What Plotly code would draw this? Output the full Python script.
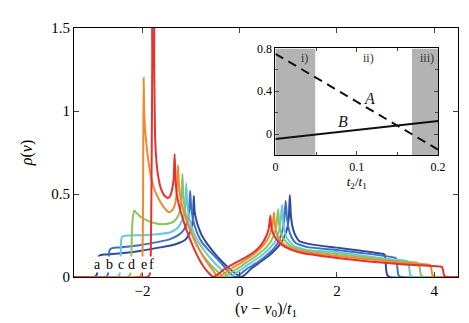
import plotly.graph_objects as go

# main panel: density of states, curves a..f
x_a = [-3.45, -3.0, -2.95, -2.93, -2.92, -2.91, -2.88, -2.8, -2.44, -2.0, -1.6, -1.42, -1.25, -1.12,
       -1.04, -0.99, -0.965, -0.945, -0.93, -0.9, -0.85, -0.78, -0.67, -0.55, -0.43, -0.25, -0.1, 0.03, 0.1,
       0.25, 0.42, 0.58, 0.75, 0.86, 0.93, 0.98, 1.01, 1.03, 1.05, 1.08, 1.13, 1.23, 1.5, 2.0, 2.5, 2.93,
       2.98, 3.0, 3.01, 3.03, 3.08, 4.6]
y_a = [0, 0, 0.01, 0.03, 0.08, 0.12, 0.13, 0.135, 0.143, 0.16, 0.18, 0.19, 0.205, 0.225,
       0.26, 0.3, 0.35, 0.49, 0.40, 0.35, 0.30, 0.25, 0.20, 0.155, 0.113, 0.06, 0.024, 0.0, 0.012,
       0.054, 0.09, 0.123, 0.17, 0.21, 0.25, 0.3, 0.36, 0.494, 0.38, 0.31, 0.26, 0.215, 0.195, 0.177,
       0.158, 0.14, 0.135, 0.1, 0.05, 0.015, 0, 0]

x_b = [-3.45, -2.76, -2.72, -2.7, -2.69, -2.68, -2.64, -2.5, -2.1, -1.7, -1.42, -1.25, -1.15, -1.09,
       -1.05, -1.02, -1.0, -0.97, -0.93, -0.87, -0.78, -0.65, -0.45, -0.3, -0.2, -0.1, -0.02, 0.15, 0.35,
       0.5, 0.68, 0.79, 0.86, 0.905, 0.945, 0.97, 1.0, 1.05, 1.15, 1.4, 2.0, 2.5, 3.17, 3.21,
       3.23, 3.245, 3.26, 3.31, 4.6]
y_b = [0, 0, 0.01, 0.04, 0.12, 0.16, 0.173, 0.178, 0.19, 0.21, 0.23, 0.255, 0.285, 0.325,
       0.37, 0.52, 0.42, 0.36, 0.31, 0.26, 0.21, 0.165, 0.105, 0.055, 0.022, 0.0, 0.01, 0.05, 0.085,
       0.118, 0.165, 0.21, 0.26, 0.32, 0.46, 0.36, 0.3, 0.25, 0.205, 0.18, 0.163, 0.145, 0.118, 0.113,
       0.09, 0.05, 0.015, 0, 0]

x_c = [-3.45, -2.52, -2.48, -2.46, -2.45, -2.44, -2.41, -2.3, -2.0, -1.7, -1.42, -1.3, -1.22, -1.16,
       -1.125, -1.1, -1.08, -1.05, -1.0, -0.94, -0.85, -0.72, -0.55, -0.4, -0.3, -0.23, -0.15, 0.05, 0.25,
       0.45, 0.62, 0.73, 0.79, 0.835, 0.87, 0.89, 0.92, 0.97, 1.1, 1.35, 2.0, 2.5, 3.0, 3.42, 3.46,
       3.48, 3.495, 3.51, 3.56, 4.6]
y_c = [0, 0, 0.01, 0.04, 0.12, 0.22, 0.245, 0.25, 0.252, 0.258, 0.27, 0.29, 0.32, 0.36,
       0.41, 0.565, 0.44, 0.37, 0.31, 0.26, 0.21, 0.155, 0.095, 0.05, 0.02, 0.0, 0.01, 0.05, 0.09,
       0.13, 0.175, 0.215, 0.26, 0.32, 0.435, 0.34, 0.28, 0.235, 0.19, 0.165, 0.15, 0.13, 0.11, 0.098, 0.094,
       0.07, 0.035, 0.01, 0, 0]

x_d = [-3.45, -2.3, -2.26, -2.24, -2.23, -2.22, -2.2, -2.17, -2.12, -2.03, -1.9, -1.76, -1.6, -1.42,
       -1.32, -1.25, -1.21, -1.18, -1.16, -1.13, -1.08, -1.0, -0.9, -0.78, -0.62, -0.5, -0.4, -0.34, -0.27,
       -0.05, 0.15, 0.35, 0.55, 0.65, 0.71, 0.755, 0.79, 0.81, 0.84, 0.9, 1.05, 1.3, 2.0, 2.6, 3.2,
       3.64, 3.68, 3.7, 3.715, 3.73, 3.79, 4.6]
y_d = [0, 0, 0.01, 0.04, 0.12, 0.25, 0.36, 0.40, 0.385, 0.36, 0.34, 0.325, 0.318, 0.325,
       0.345, 0.38, 0.43, 0.62, 0.49, 0.41, 0.34, 0.27, 0.2, 0.14, 0.08, 0.045, 0.018, 0.0, 0.01,
       0.05, 0.09, 0.13, 0.18, 0.22, 0.26, 0.31, 0.41, 0.32, 0.27, 0.23, 0.185, 0.16, 0.138, 0.118, 0.097,
       0.086, 0.082, 0.06, 0.03, 0.01, 0, 0]

x_e = [-3.45, -2.07, -2.03, -2.01, -2.0, -1.99, -1.985, -1.978, -1.965, -1.95, -1.92, -1.88, -1.83,
       -1.76, -1.63, -1.52, -1.45, -1.38, -1.33, -1.3, -1.27, -1.25, -1.21, -1.15, -1.07, -0.97,
       -0.84, -0.68, -0.54, -0.44, -0.37, -0.15, 0.05, 0.3, 0.48, 0.57, 0.63, 0.675, 0.705, 0.725,
       0.76, 0.85, 1.0, 1.3, 2.0, 2.7, 3.4, 3.88, 3.92, 3.94, 3.955, 3.97, 4.03, 4.6]
y_e = [0, 0, 0.01, 0.04, 0.15, 0.4, 0.8, 1.2, 1.0, 0.9, 0.8, 0.7, 0.61,
       0.53, 0.45, 0.405, 0.39, 0.405, 0.44, 0.5, 0.675, 0.55, 0.46, 0.39, 0.32, 0.25,
       0.17, 0.09, 0.035, 0.0, 0.01, 0.055, 0.09, 0.14, 0.19, 0.225, 0.265, 0.31, 0.39, 0.31,
       0.26, 0.215, 0.18, 0.152, 0.126, 0.105, 0.085, 0.075, 0.07, 0.05, 0.025, 0.008, 0, 0]

x_f = [-3.45, -1.9, -1.86, -1.84, -1.83, -1.82, -1.81, -1.8, -1.79, -1.775, -1.76, -1.75, -1.74,
       -1.72, -1.69, -1.63, -1.56, -1.48, -1.43, -1.39, -1.36, -1.34, -1.32, -1.29, -1.24, -1.17,
       -1.08, -0.97, -0.86, -0.75, -0.65, -0.55, -0.47, -0.3, -0.1, 0.1, 0.26, 0.4, 0.48, 0.55,
       0.595, 0.63, 0.65, 0.69, 0.76, 0.86, 1.05, 1.3, 2.0, 2.66, 3.4, 4.12, 4.16, 4.18, 4.195,
       4.21, 4.27, 4.6]
y_f = [0, 0, 0.01, 0.04, 0.15, 0.4, 0.8, 1.3, 1.9, 1.9, 1.3, 1.0, 0.83,
       0.72, 0.63, 0.54, 0.495, 0.475, 0.49, 0.53, 0.59, 0.74, 0.58, 0.49, 0.42, 0.35,
       0.27, 0.19, 0.12, 0.065, 0.028, 0.0, 0.012, 0.05, 0.083, 0.115, 0.143, 0.18, 0.21, 0.25,
       0.29, 0.37, 0.3, 0.26, 0.225, 0.195, 0.165, 0.143, 0.115, 0.093, 0.075, 0.063, 0.06, 0.045, 0.02,
       0.006, 0, 0]

curve_labels = ["a", "b", "c", "d", "e", "f"]
label_x = [-2.92, -2.68, -2.44, -2.22, -1.98, -1.81]
colors = ["#2c4b9e", "#3f70c2", "#66c8e2", "#8dc45b", "#f08a2e", "#e5322f"]

# inset: A and B versus t2/t1
t_ratio = [0, 0.2]
line_A = [0.75, -0.145]
line_B = [-0.046, 0.122]
regions = [(0, 0.049), (0.168, 0.2)]
region_labels = ["i)", "ii)", "iii)"]
region_label_x = [0.036, 0.114, 0.186]

FONT = "Liberation Serif"

fig = go.Figure()
xs = [x_a, x_b, x_c, x_d, x_e, x_f]
ys = [y_a, y_b, y_c, y_d, y_e, y_f]
for i in range(6):
    fig.add_trace(
        go.Scatter(
            x=xs[i],
            y=ys[i],
            mode="lines",
            line=dict(color=colors[i], width=2, shape="spline", smoothing=0.5),
            showlegend=False,
            hoverinfo="skip",
        )
    )

for lab, lx in zip(curve_labels, label_x):
    fig.add_annotation(
        x=lx, y=0.073, text=lab, showarrow=False,
        font=dict(family=FONT, size=14, color="black"),
        bgcolor="white", borderpad=0,
    )

for x0, x1 in regions:
    fig.add_shape(
        type="rect", xref="x2", yref="y2", x0=x0, x1=x1, y0=-0.2, y1=0.8,
        fillcolor="#b3b3b3", line_width=0, layer="below",
    )

fig.add_trace(
    go.Scatter(
        x=t_ratio, y=line_A, xaxis="x2", yaxis="y2", mode="lines",
        line=dict(color="#111111", width=2, dash="9px,6px"), showlegend=False,
    )
)
fig.add_trace(
    go.Scatter(
        x=t_ratio, y=line_B, xaxis="x2", yaxis="y2", mode="lines",
        line=dict(color="#111111", width=2), showlegend=False,
    )
)

fig.add_annotation(x=0.116, y=0.33, xref="x2", yref="y2", text="<i>A</i>", showarrow=False,
                   font=dict(family=FONT, size=16, color="#222222"))
fig.add_annotation(x=0.083, y=0.12, xref="x2", yref="y2", text="<i>B</i>", showarrow=False,
                   font=dict(family=FONT, size=16, color="#222222"))
for lab, lx in zip(region_labels, region_label_x):
    fig.add_annotation(x=lx, y=0.71, xref="x2", yref="y2", text=lab, showarrow=False,
                       font=dict(family=FONT, size=12, color="#333333"))

fig.update_layout(
    width=469,
    height=323,
    margin=dict(l=66, r=16, t=17, b=54),
    plot_bgcolor="white",
    paper_bgcolor="white",
    font=dict(family=FONT, size=15, color="black"),
    xaxis=dict(
        range=[-3.41, 4.49],
        tickvals=[-2, 0, 2, 4],
        ticktext=["\u22122", "0", "2", "4"],
        ticks="inside", ticklen=5, mirror="allticks",
        showline=True, linecolor="black", linewidth=1,
        showgrid=False, zeroline=False,
        title=dict(text="(<i>\u03bd</i> \u2212 <i>\u03bd</i><sub>0</sub>)/<i>t</i><sub>1</sub>",
                   standoff=4, font=dict(size=16)),
    ),
    yaxis=dict(
        range=[0, 1.5],
        tickvals=[0, 0.5, 1, 1.5],
        ticktext=["0", "0.5", "1", "1.5"],
        ticks="inside", ticklen=5, mirror="allticks",
        showline=True, linecolor="black", linewidth=1,
        showgrid=False, zeroline=False,
        title=dict(text="<i>\u03c1</i>(<i>\u03bd</i>)", standoff=14, font=dict(size=16)),
    ),
    xaxis2=dict(
        domain=[0.5245, 0.948], anchor="y2",
        range=[0, 0.2],
        tickvals=[0, 0.1, 0.2],
        ticks="inside", ticklen=4, mirror="allticks",
        minor=dict(dtick=0.05, ticks="inside", ticklen=3),
        showline=True, linecolor="black", linewidth=1,
        showgrid=False, zeroline=False,
        tickfont=dict(size=12),
        title=dict(text="<i>t</i><sub>2</sub>/<i>t</i><sub>1</sub>", standoff=2, font=dict(size=13)),
    ),
    yaxis2=dict(
        domain=[0.488, 0.918], anchor="x2",
        range=[-0.2, 0.8],
        tickvals=[0, 0.4, 0.8],
        ticks="inside", ticklen=4, mirror="allticks",
        minor=dict(dtick=0.2, ticks="inside", ticklen=3),
        showline=True, linecolor="black", linewidth=1,
        showgrid=False, zeroline=False,
        tickfont=dict(size=12),
    ),
)

fig.write_html("out.html")
